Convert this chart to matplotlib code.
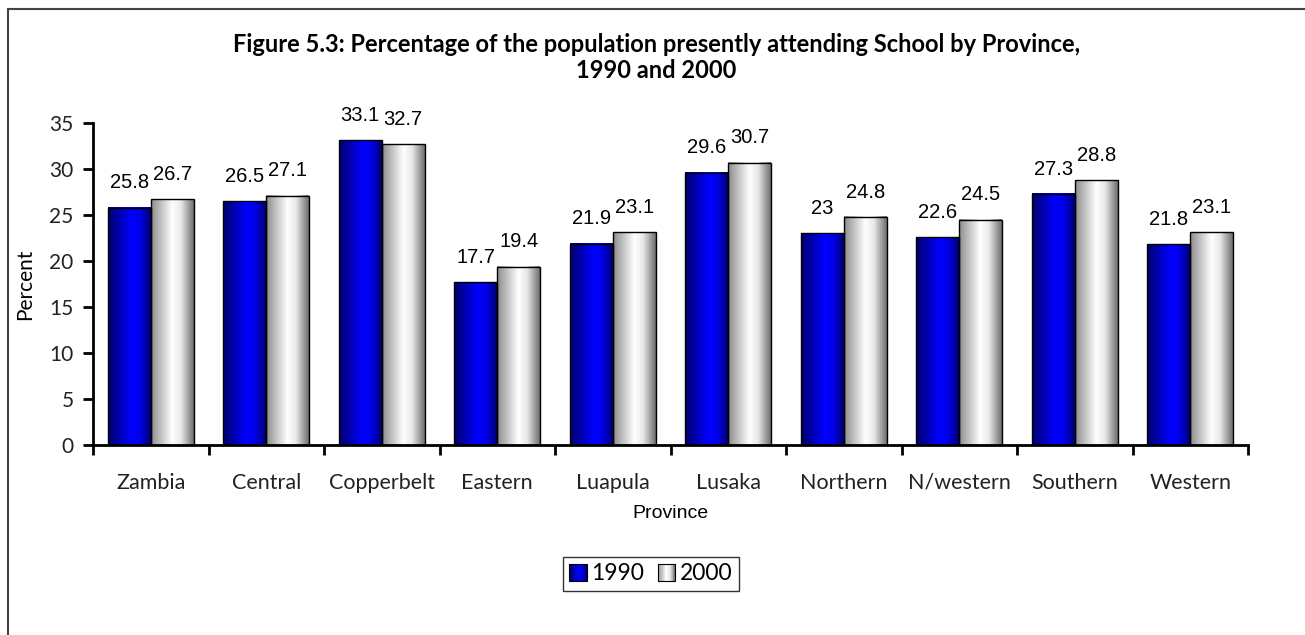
import numpy as np
import matplotlib
matplotlib.use("Agg")
import matplotlib.pyplot as plt
from matplotlib.colors import LinearSegmentedColormap
from matplotlib.patches import Rectangle
from matplotlib.legend_handler import HandlerBase
from matplotlib.lines import Line2D

# ── Data ──────────────────────────────────────────────────────
provinces = ["Zambia", "Central", "Copperbelt", "Eastern", "Luapula",
             "Lusaka", "Northern", "N/western", "Southern", "Western"]
pct_1990 = [25.8, 26.5, 33.1, 17.7, 21.9, 29.6, 23, 22.6, 27.3, 21.8]
pct_2000 = [26.7, 27.1, 32.7, 19.4, 23.1, 30.7, 24.8, 24.5, 28.8, 23.1]
series_labels = ["1990", "2000"]

# ── Style ─────────────────────────────────────────────────────
TICK_FONT = ["Lato", "DejaVu Sans"]
NUM_FONT = ["Liberation Sans Narrow", "Liberation Sans", "DejaVu Sans"]

blue_cmap = LinearSegmentedColormap.from_list(
    "blue_bar", [(0.0, "#00006a"), (0.55, "#0000ff"), (0.75, "#0000e8"), (1.0, "#000070")])
gray_cmap = LinearSegmentedColormap.from_list(
    "gray_bar", [(0.0, "#8c8c8c"), (0.5, "#ffffff"), (0.7, "#e8e8e8"), (1.0, "#6e6e6e")])

fig = plt.figure(figsize=(13.05, 6.35), dpi=100)
ax = fig.add_axes([93 / 1305, 1 - 445 / 635, (1248 - 93) / 1305, (445 - 123) / 635])

x = np.arange(len(provinces))
width = 0.372
grad = np.linspace(0, 1, 256).reshape(1, -1)


def gradient_bars(xpos, values, cmap):
    bars = ax.bar(xpos, values, width=width, facecolor="none",
                  edgecolor="black", linewidth=1.0, zorder=3)
    for b in bars:
        x0, y0 = b.get_x(), b.get_y()
        ax.imshow(grad, cmap=cmap, aspect="auto", zorder=2,
                  extent=(x0, x0 + b.get_width(), y0, y0 + b.get_height()))
    return bars


bars_a = gradient_bars(x - width / 2, pct_1990, blue_cmap)
bars_b = gradient_bars(x + width / 2, pct_2000, gray_cmap)

# value labels
for bars, vals in [(bars_a, pct_1990), (bars_b, pct_2000)]:
    for b, v in zip(bars, vals):
        ax.annotate(f"{v:g}", (b.get_x() + b.get_width() / 2, b.get_height()),
                    xytext=(0, 11), textcoords="offset points",
                    ha="center", va="bottom", fontsize=14.5, family=NUM_FONT)

ax.set_xlim(-0.5, len(provinces) - 0.5)
ax.set_ylim(0, 35)
ax.set_yticks(np.arange(0, 36, 5))
ax.set_xticks(x)
ax.set_xticklabels(provinces, family=TICK_FONT, fontsize=15.5)
ax.set_xticks(np.arange(-0.5, len(provinces), 1), minor=True)
ax.tick_params(axis="x", which="major", length=0, pad=20, colors="#222222")
ax.tick_params(axis="x", which="minor", length=7, width=2, direction="out")
ax.tick_params(axis="y", length=7, width=2, direction="out", pad=7,
               labelsize=15, colors="black", labelcolor="#222222")
for lbl in ax.get_yticklabels():
    lbl.set_family(TICK_FONT)

for side in ["top", "right"]:
    ax.spines[side].set_visible(False)
for side in ["left", "bottom"]:
    ax.spines[side].set_linewidth(2)

ax.set_ylabel("Percent", family=TICK_FONT, fontsize=15, labelpad=10)
ax.set_xlabel("Province", family=["Liberation Sans", "DejaVu Sans"], fontsize=14, labelpad=9)

# ── Title ─────────────────────────────────────────────────────
fig.text(0.503, 1 - 44 / 635,
         "Figure 5.3: Percentage of the population presently attending School by Province,",
         ha="center", va="center", fontsize=17, fontweight="bold", family=TICK_FONT)
fig.text(0.503, 1 - 70 / 635, "1990 and 2000",
         ha="center", va="center", fontsize=17, fontweight="bold", family=TICK_FONT)

# ── Outer frame (top and left edges only) ─────────────────────
fig.add_artist(Line2D([8 / 1305, 8 / 1305], [0, 1 - 9 / 635], color="#444444", lw=1.5))
fig.add_artist(Line2D([8 / 1305, 1], [1 - 9 / 635, 1 - 9 / 635], color="#444444", lw=1.5))


# ── Legend with gradient swatches ─────────────────────────────
class GradientHandler(HandlerBase):
    def __init__(self, cmap):
        super().__init__()
        self.cmap = cmap

    def create_artists(self, legend, orig_handle, xdescent, ydescent,
                       width, height, fontsize, trans):
        side = height * 1.1
        x0 = -xdescent + width - side
        y0 = -ydescent + (height - side) / 2
        n = 20
        artists = []
        for i in range(n):
            artists.append(Rectangle((x0 + side * i / n, y0), side / n + 0.3, side,
                                     facecolor=self.cmap((i + 0.5) / n),
                                     edgecolor="none", transform=trans))
        artists.append(Rectangle((x0, y0), side, side, facecolor="none",
                                 edgecolor="black", lw=0.8, transform=trans))
        return artists


h1, h2 = Rectangle((0, 0), 1, 1), Rectangle((0, 0), 1, 1)
leg = fig.legend([h1, h2], series_labels, loc="center",
                 bbox_to_anchor=(651 / 1305, 1 - 574 / 635), ncol=2,
                 handler_map={h1: GradientHandler(blue_cmap), h2: GradientHandler(gray_cmap)},
                 prop={"family": TICK_FONT, "size": 16.5}, frameon=True, fancybox=False,
                 edgecolor="black", handlelength=0.75, handletextpad=0.2,
                 columnspacing=0.6, borderpad=0.3)
leg.get_frame().set_linewidth(1.0)

fig.savefig("out.png", dpi=100)
